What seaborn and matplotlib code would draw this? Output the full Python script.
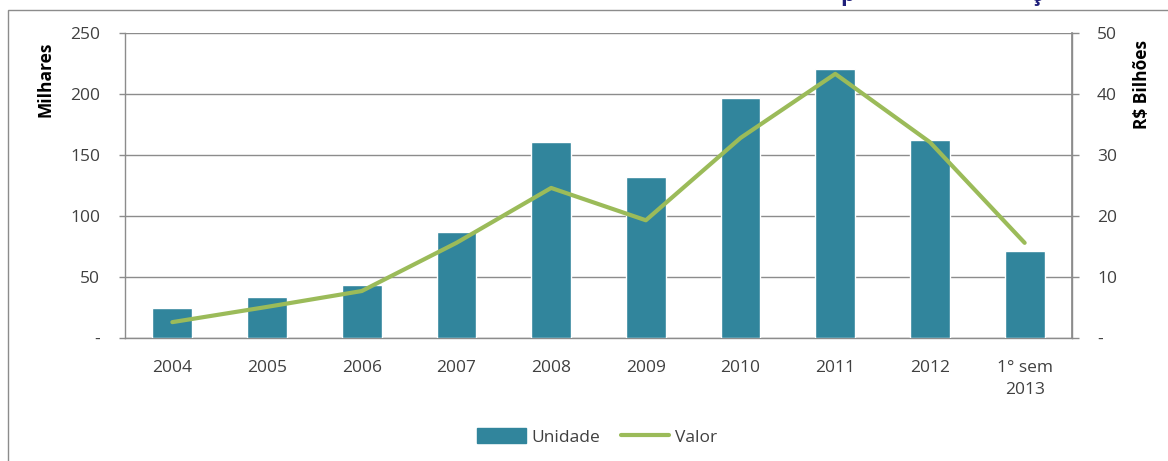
import matplotlib
matplotlib.use("Agg")
import matplotlib.pyplot as plt
import seaborn as sns
import pandas as pd
import numpy as np
from matplotlib.patches import Rectangle, Patch
from matplotlib.lines import Line2D

categories = ["2004", "2005", "2006", "2007", "2008", "2009", "2010", "2011", "2012", "1° sem\n2013"]
unidades = [24.6, 33.6, 43.4, 87, 160.5, 132, 196.7, 220.5, 162.3, 71.3]
valor = [2.6, 5.1, 7.7, 15.6, 24.6, 19.3, 32.8, 43.3, 32.1, 15.6]
left_ticks = [0, 50, 100, 150, 200, 250]
left_labels = ["-", "50", "100", "150", "200", "250"]
right_ticks = [0, 10, 20, 30, 40, 50]
right_labels = ["-", "10", "20", "30", "40", "50"]

sns.set_theme(style="white")
plt.rcParams['font.family'] = ['Open Sans', 'DejaVu Sans']

BAR = "#31859C"
LINE = "#9BBB59"
GRID = "#8C8C8C"
TXT = "#404040"
FS = 12.5

df = pd.DataFrame({"cat": categories, "Unidade": unidades, "Valor": valor})

fig = plt.figure(figsize=(11.68, 4.61), dpi=100)
W, H = 1168, 461
ax = fig.add_axes([125 / W, 1 - 338 / H, (1072 - 125) / W, (338 - 33) / H])

sns.barplot(data=df, x="cat", y="Unidade", color=BAR, width=0.42, ax=ax,
            saturation=1, zorder=3)
ax.set_ylim(0, 250)
ax.set_xlim(-0.5, len(categories) - 0.5)
ax.set_yticks(left_ticks)
ax.set_yticklabels(left_labels)
ax.yaxis.grid(True, color=GRID, linewidth=1, zorder=0)
ax.set_axisbelow(True)
ax.set_xlabel("")
ax.set_ylabel("Milhares", fontsize=12.5, fontweight="bold", color="black")
ax.yaxis.set_label_coords((45 - 125) / 947, (338 - 79) / 305)
ax.yaxis.label.set(ha="center", va="center", rotation_mode="anchor")
ax.spines["top"].set_visible(False)
for s in ["left", "bottom", "right"]:
    ax.spines[s].set_color(GRID)
    ax.spines[s].set_linewidth(1)
ax.tick_params(axis="y", length=4, color=GRID, width=1, labelsize=FS, labelcolor=TXT, pad=14, direction="out", left=True)
ax.tick_params(axis="x", length=0, labelsize=FS, labelcolor=TXT, pad=16)
for lbl in ax.get_xticklabels():
    lbl.set_linespacing(1.45)

ax2 = ax.twinx()
sns.lineplot(x=np.arange(len(categories)), y=valor, color=LINE, linewidth=3, ax=ax2, zorder=4)
ax2.set_ylim(0, 50)
ax2.set_xlim(-0.5, len(categories) - 0.5)
ax2.set_yticks(right_ticks)
ax2.set_yticklabels(right_labels)
ax2.set_ylabel("R$ Bilhões", fontsize=12.5, fontweight="bold", color="black")
ax2.yaxis.set_label_coords((1142 - 125) / 947, (338 - 84) / 305)
ax2.yaxis.label.set(ha="center", va="center", rotation_mode="anchor")
ax2.grid(False)
for s in ["top", "left", "bottom"]:
    ax2.spines[s].set_visible(False)
ax2.spines["right"].set_color(GRID)
ax2.tick_params(axis="y", length=5, color=GRID, width=1, labelsize=FS, labelcolor=TXT, pad=13, direction="out", right=True)

handles = [Patch(facecolor=BAR, edgecolor=BAR), Line2D([0], [0], color=LINE, linewidth=3)]
leg = fig.legend(handles, ["Unidade", "Valor"], loc="center", bbox_to_anchor=(597 / W, 1 - 437 / H),
                 ncol=2, frameon=False, fontsize=FS, handlelength=2.8, handleheight=0.9,
                 columnspacing=1.2, handletextpad=0.3)
for t in leg.get_texts():
    t.set_color(TXT)

# outer chart frame
fig.add_artist(Rectangle((8 / W, -0.05), 1.2, 1 - 10 / H + 0.05, transform=fig.transFigure,
                         fill=False, edgecolor="#8C8C8C", linewidth=1, clip_on=False))

# cut-off title fragments at top (the title itself lies above the visible area)
fig.text(840 / W, 1 - 1 / H, "p", fontsize=16, fontweight="bold", color="#1F1F7A", va="baseline")
fig.text(1031 / W, 1 - 1 / H, "ç", fontsize=16, fontweight="bold", color="#1F1F7A", va="baseline")

fig.savefig("out.png", dpi=100)
